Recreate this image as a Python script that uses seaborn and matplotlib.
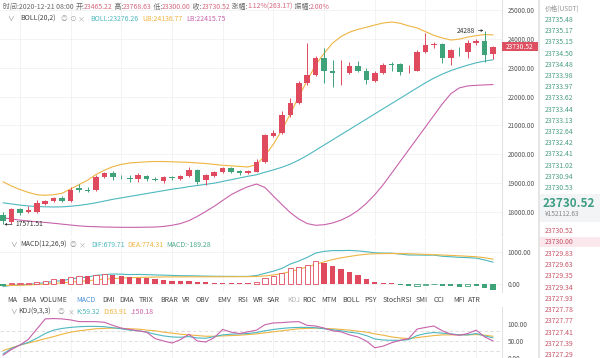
import matplotlib
matplotlib.use("Agg")
import matplotlib.pyplot as plt
import seaborn as sns
import numpy as np
import pandas as pd
from matplotlib.patches import Rectangle

# ---------------- data ----------------
opens = [17900, 17650, 18100, 18000, 18000, 18290, 18390, 18500, 18390, 18830,
         18780, 18760, 19220, 19340, 19230, 19180, 19140, 19250, 19150, 19080,
         19200, 19150, 19250, 19460, 19120, 19260, 19390, 19530, 19420, 19350,
         19400, 19720, 20650, 20740, 21350, 21780, 22470, 22760, 23340, 22890,
         22800, 22830, 23060, 22900, 22550, 22820, 23110, 23120, 22870, 22890,
         23550, 23800, 23820, 23340, 23620, 23550, 23860, 23930, 23465.22]
closes = [17700, 18100, 17970, 18070, 18300, 18380, 18490, 18390, 18780, 18780,
          18720, 19220, 19350, 19230, 19200, 19130, 19280, 19150, 19110, 19200,
          19180, 19250, 19460, 19040, 19280, 19400, 19530, 19400, 19350, 19420,
          19720, 20670, 20740, 21360, 21780, 22470, 22750, 23340, 22900, 22820,
          22830, 23060, 22890, 22570, 22820, 23100, 23090, 22860, 22900, 23550,
          23790, 23830, 23340, 23610, 23600, 23860, 23930, 23440, 23730.52]
highs = [18000, 18150, 18150, 18200, 18400, 18420, 18530, 18560, 18850, 18970,
         18850, 19300, 19400, 19420, 19300, 19300, 19350, 19280, 19200, 19260,
         19250, 19300, 19560, 19500, 19320, 19430, 19570, 19560, 19460, 19470,
         19850, 20700, 20850, 21500, 21950, 22550, 23850, 23400, 23680, 23270,
         23270, 23200, 23250, 23000, 22900, 23180, 23200, 23150, 23100, 23600,
         24200, 23900, 23850, 23650, 23720, 23950, 23980, 24288, 23768.63]
lows = [17571.51, 17600, 17900, 17950, 17950, 18250, 18350, 18330, 18360, 18700,
        18690, 18740, 19190, 19120, 19130, 19050, 19050, 19060, 19060, 19000,
        19120, 19100, 19230, 18980, 18950, 19220, 19360, 19360, 19300, 19310,
        19380, 19700, 20600, 20700, 21300, 21750, 22400, 22700, 22470, 22330,
        22400, 22780, 22850, 22450, 22500, 22780, 22900, 22750, 22800, 22870,
        23500, 23700, 23150, 23100, 23400, 23340, 23800, 23200, 23300.00]

boll_mid = [18320, 18280, 18240, 18210, 18190, 18180, 18175, 18180, 18200, 18230,
            18270, 18320, 18380, 18440, 18490, 18540, 18590, 18640, 18690, 18740,
            18790, 18830, 18880, 18920, 18960, 19000, 19060, 19120, 19180, 19240,
            19290, 19380, 19460, 19550, 19660, 19800, 19960, 20140, 20320, 20500,
            20680, 20860, 21040, 21220, 21400, 21580, 21760, 21940, 22120, 22300,
            22480, 22640, 22780, 22900, 23000, 23090, 23170, 23230, 23276.26]
boll_ub = [19050, 18900, 18780, 18680, 18600, 18580, 18600, 18650, 18800, 18950,
           19100, 19300, 19450, 19570, 19650, 19700, 19720, 19740, 19750, 19750,
           19740, 19730, 19720, 19700, 19680, 19650, 19620, 19600, 19580, 19560,
           19650, 19950, 20350, 20840, 21400, 22000, 22550, 23100, 23500, 23850,
           24080, 24230, 24330, 24400, 24480, 24550, 24585, 24540, 24450, 24380,
           24250, 24120, 24030, 23960, 23990, 24060, 24110, 24150, 24136.77]
boll_lb = [17800, 17760, 17720, 17690, 17660, 17640, 17610, 17580, 17550, 17520,
           17500, 17490, 17480, 17475, 17470, 17470, 17470, 17475, 17480, 17500,
           17540, 17600, 17700, 17850, 18020, 18200, 18400, 18600, 18750, 18880,
           18970, 18850, 18550, 18260, 17980, 17760, 17600, 17540, 17560, 17620,
           17720, 17860, 18050, 18300, 18600, 18950, 19350, 19750, 20150, 20550,
           20950, 21350, 21750, 22100, 22300, 22370, 22390, 22405, 22415.75]

macd_hist = [-60, 10, 20, 30, 60, 85, 135, 135, 200, 230,
             230, 290, 295, 290, 250, 200, 190, 165, 135, 115,
             95, 75, 70, 55, 45, 30, 25, 20, 15, 15,
             60, 165, 240, 325, 480, 530, 600, 715, 660, 570,
             460, 380, 270, 160, 60, 30, 20, -30, -80, -60,
             -50, -25, -80, -85, -95, -85, -85, -140, -189.28]
dif = [-90, -50, -38, -23, 5, 32, 75, 95, 150, 187,
       210, 263, 287, 305, 300, 288, 292, 287, 277, 270,
       262, 253, 252, 245, 240, 234, 232, 231, 229, 230,
       258, 327, 395, 482, 620, 715, 830, 967, 1020, 1045,
       1045, 1050, 1035, 1010, 975, 965, 962, 935, 905, 905,
       900, 902, 865, 850, 832, 822, 807, 750, 679.71]
dea = [-60, -55, -48, -38, -25, -10, 8, 28, 50, 72,
       95, 118, 140, 160, 175, 188, 197, 205, 210, 213,
       215, 216, 217, 218, 218, 219, 220, 221, 222, 223,
       228, 245, 275, 320, 380, 450, 530, 610, 690, 760,
       815, 860, 900, 930, 945, 950, 952, 950, 945, 935,
       925, 915, 905, 893, 880, 865, 850, 820, 774.31]

kdj_k = [12, 28, 38, 46, 58, 72, 82, 87, 90, 92,
         93, 93, 92, 89, 86, 82, 80, 76, 70, 65,
         62, 61, 63, 59, 58, 63, 68, 70, 71, 72,
         75, 80, 84, 87, 89, 90, 90, 89, 86, 83,
         80, 76, 73, 66, 56, 53, 52, 52, 54, 66,
         72, 75, 73, 71, 68, 68, 72, 65, 59.32]
kdj_d = [22, 30, 38, 44, 50, 57, 63, 70, 76, 80,
         83, 86, 87, 88, 87, 86, 85, 82, 80, 76,
         73, 70, 68, 66, 64, 64, 65, 66, 67, 69,
         71, 74, 77, 80, 83, 86, 87, 88, 87, 86,
         84, 82, 79, 76, 71, 67, 62, 59, 57, 60,
         63, 66, 68, 68, 68, 68, 69, 67, 63.91]
kdj_j = [8, 25, 38, 55, 85, 115, 116, 115, 112, 107,
         107, 107, 105, 96, 88, 84, 80, 76, 57, 50,
         44, 54, 70, 50, 47, 60, 84, 76, 72, 77,
         82, 98, 103, 104, 106, 107, 96, 94, 88, 80,
         77, 68, 62, 50, 30, 35, 45, 52, 57, 85,
         90, 94, 80, 70, 67, 72, 82, 62, 50.18]

price_ticks = [18000, 19000, 20000, 21000, 22000, 23000, 24000, 25000]
macd_ticks = [0, 1000]
kdj_ticks = [0, 50, 100]

ask_prices = ["23735.48", "23735.17", "23735.15", "23734.50", "23734.48", "23733.98",
              "23733.97", "23733.62", "23733.44", "23733.13", "23732.64", "23732.42",
              "23732.41", "23731.02", "23730.94", "23730.53"]
bid_prices = ["23730.52", "23730.00", "23729.83", "23729.63", "23729.35", "23729.34",
              "23727.93", "23727.78", "23727.77", "23727.41", "23727.39", "23727.29"]

tabs = ["MA", "EMA", "VOLUME", "MACD", "DMI", "DMA", "TRIX", "BRAR", "VR", "OBV", "EMV",
        "RSI", "WR", "SAR", "KDJ", "ROC", "MTM", "BOLL", "PSY", "StochRSI", "SMI",
        "CCI", "MFI", "ATR"]
tab_x = [7, 22, 40, 76, 102, 119, 139, 160, 182, 196, 217, 237, 253, 267, 287,
         302, 321, 342, 364, 383, 416, 434, 453, 468]

# ---------------- style ----------------
sns.set_theme(style="white")
plt.rcParams['font.family'] = ['Noto Sans CJK SC', 'DejaVu Sans']
plt.rcParams['axes.unicode_minus'] = False

RED = '#e04a5e'
GREEN = '#3fa37a'
TEAL = '#4db8bf'
YEL = '#eeb543'
PURP = '#c862ab'
GRID = '#f1f1f1'

W, H = 600, 358
fig = plt.figure(figsize=(W / 100, H / 100), dpi=100)
fig.patch.set_facecolor('white')


def px_axes(x0, y0, x1, y1):
    return fig.add_axes([x0 / W, 1 - y1 / H, (x1 - x0) / W, (y1 - y0) / H])


def T(x, y, s, **kw):
    kw.setdefault('va', 'center')
    kw.setdefault('ha', 'left')
    return fig.text(x / W, 1 - y / H, s, **kw)


n = len(opens)
idx = np.arange(n)
XL = (-3 / 8.45, (502 - 3) / 8.45)
grid_x = list(range(2, n, 6))


def style_axis(ax, ticks, labels, ylim):
    ax.set_xlim(*XL)
    ax.set_ylim(*ylim)
    ax.set_xticks(grid_x)
    ax.set_xticklabels([])
    ax.yaxis.tick_right()
    ax.set_yticks(ticks)
    ax.set_yticklabels(labels)
    ax.tick_params(axis='y', length=0, pad=4, labelsize=4.6, colors='#555555')
    ax.tick_params(axis='x', length=0)
    ax.grid(True, color=GRID, linewidth=0.6)
    for s in ['left', 'top', 'bottom']:
        ax.spines[s].set_visible(False)
    ax.spines['right'].set_color('#e2e2e2')
    ax.spines['right'].set_linewidth(0.8)
    ax.set_xlabel('')
    ax.set_ylabel('')
    ax.set_facecolor('white')


# ---------------- main (candles + BOLL) ----------------
ax = px_axes(0, 0, 502, 236)
px_per = 1000 / 34.65
style_axis(ax, price_ticks, [f"{v:.2f}" for v in price_ticks],
           (25000 - 226 * 34.65, 25000 + 10 * 34.65))

df = pd.DataFrame({'i': idx, 'open': opens, 'close': closes, 'high': highs, 'low': lows,
                   'mid': boll_mid, 'ub': boll_ub, 'lb': boll_lb})
sns.lineplot(data=df, x='i', y='ub', ax=ax, color=YEL, linewidth=0.8)
sns.lineplot(data=df, x='i', y='mid', ax=ax, color=TEAL, linewidth=0.8)
sns.lineplot(data=df, x='i', y='lb', ax=ax, color=PURP, linewidth=0.8)
ax.set_xlabel('')
ax.set_ylabel('')

up = df['close'] >= df['open']
cols = np.where(up, RED, GREEN)
ax.vlines(df['i'], df['low'], df['high'], colors=cols, linewidth=0.7, zorder=3)
body_lo = np.minimum(df['open'], df['close'])
body_h = np.maximum(np.abs(df['close'] - df['open']), 25)
ax.bar(df['i'], body_h, bottom=body_lo, width=0.66, color=cols, linewidth=0, zorder=4)

# high / low markers
i_hi = int(np.argmax(highs))
i_lo = int(np.argmin(lows))
ax.annotate(f"{highs[i_hi]:.0f}", xy=(i_hi - 0.15, highs[i_hi]), xytext=(-6, 0),
            textcoords='offset points', ha='right', va='center', fontsize=4.8, color='#333333',
            arrowprops=dict(arrowstyle='-|>', color='#333333', lw=0.5, mutation_scale=3,
                            shrinkA=0, shrinkB=0))
ax.annotate(f"{lows[i_lo]:.2f}", xy=(i_lo + 0.15, lows[i_lo]), xytext=(8, 0),
            textcoords='offset points', ha='left', va='center', fontsize=4.8, color='#333333',
            arrowprops=dict(arrowstyle='-|>', color='#333333', lw=0.5, mutation_scale=3,
                            shrinkA=0, shrinkB=0))

# current price tag
cur = closes[-1]
cy = 10 + (25000 - cur) / 34.65
fig.patches.append(Rectangle((502 / W, 1 - (cy + 4.5) / H), 36 / W, 9 / H,
                             transform=fig.transFigure, facecolor='#de4f62', edgecolor='none',
                             zorder=5))
T(520, cy, f"{cur:.2f}", ha='center', fontsize=4.8, color='white', zorder=6)

# ---------------- MACD ----------------
axm = px_axes(0, 238, 502, 292)
style_axis(axm, macd_ticks, ["0.00", "1000.00"],
           ((283.7 - 292) / 31.7 * 1000, (283.7 - 238) / 31.7 * 1000))
mdf = pd.DataFrame({'i': idx, 'hist': macd_hist, 'dif': dif, 'dea': dea})
hv = np.array(macd_hist, dtype=float)
prev = np.concatenate([[hv[0]], hv[:-1]])
hollow = hv > prev
bcol = np.where(hv >= 0, RED, GREEN)
for i in range(n):
    if hollow[i]:
        axm.bar(i, hv[i], width=0.62, facecolor='white', edgecolor=bcol[i], linewidth=0.6, zorder=3)
    else:
        axm.bar(i, hv[i], width=0.62, color=bcol[i], linewidth=0, zorder=3)
sns.lineplot(data=mdf, x='i', y='dif', ax=axm, color=TEAL, linewidth=0.8)
sns.lineplot(data=mdf, x='i', y='dea', ax=axm, color=YEL, linewidth=0.8)
axm.set_xlabel('')
axm.set_ylabel('')

# ---------------- KDJ ----------------
axk = px_axes(0, 307, 502, 358)
style_axis(axk, kdj_ticks, ["0.00", "50.00", "100.00"], (0, 150))
axk.grid(False)
for xv in grid_x:
    axk.axvline(xv, color=GRID, linewidth=0.6, zorder=0)
for lv in [20, 50, 80]:
    axk.axhline(lv, color='#d8d8d8', linewidth=0.6, linestyle=(0, (4, 3)), zorder=1)
kdf = pd.DataFrame({'i': idx, 'K': kdj_k, 'D': kdj_d, 'J': kdj_j})
sns.lineplot(data=kdf, x='i', y='D', ax=axk, color=YEL, linewidth=0.8)
sns.lineplot(data=kdf, x='i', y='K', ax=axk, color=TEAL, linewidth=0.8)
sns.lineplot(data=kdf, x='i', y='J', ax=axk, color=PURP, linewidth=0.8)
axk.set_xlabel('')
axk.set_ylabel('')

# ---------------- header texts ----------------
fig.canvas.draw()
rend = fig.canvas.get_renderer()


def seq(x, y, pieces, fs):
    for s, c in pieces:
        t = T(x, y, s, fontsize=fs, color=c)
        bb = t.get_window_extent(renderer=rend)
        x = bb.x1


GR = '#666666'
VR = '#d5687d'
seq(3, 7, [("时间:2020-12-21 08:00 ", GR), ("开:", GR), ("23465.22", VR), (" 高:", GR),
           ("23768.63", VR), (" 低:", GR), ("23300.00", VR), (" 收:", GR), ("23730.52", VR),
           (" 涨幅:", GR), ("1.12%(263.17)", VR), (" 振幅:", GR), ("2.00%", VR)], 5.0)

T(7, 19, "∨", fontsize=4.8, color='#888888')
T(20, 19, "BOLL(20,2)", fontsize=5.0, color='#444444')
T(61, 19, "◎", fontsize=4.8, color='#aaaaaa')
T(69, 19, "⊙", fontsize=4.8, color='#aaaaaa')
T(78, 19, "×", fontsize=5.0, color='#aaaaaa')
T(90, 19, "BOLL:23276.26", fontsize=5.0, color=TEAL)
T(142, 19, "UB:24136.77", fontsize=5.0, color=YEL)
T(186, 19, "LB:22415.75", fontsize=5.0, color=PURP)

T(10, 245, "∨", fontsize=4.8, color='#888888')
T(20, 245, "MACD(12,26,9)", fontsize=5.0, color='#444444')
T(70, 245, "◎", fontsize=4.8, color='#aaaaaa')
T(79, 245, "×", fontsize=5.0, color='#aaaaaa')
T(91, 245, "DIF:679.71", fontsize=5.0, color=TEAL)
T(127, 245, "DEA:774.31", fontsize=5.0, color=YEL)
T(166, 245, "MACD:-189.28", fontsize=5.0, color='#4aa98a')

T(10, 312, "∨", fontsize=4.8, color='#888888')
T(18, 312, "KDJ(9,3,3)", fontsize=5.0, color='#444444')
T(58, 312, "◎", fontsize=4.8, color='#aaaaaa')
T(68, 312, "×", fontsize=5.0, color='#aaaaaa')
T(76, 312, "K:59.32", fontsize=5.0, color=TEAL)
T(103, 312, "D:63.91", fontsize=5.0, color=YEL)
T(131, 312, "J:50.18", fontsize=5.0, color=PURP)

# indicator tabs
for s, xv in zip(tabs, tab_x):
    c = '#444444'
    if s == 'MACD':
        c = '#4a8fd6'
    elif s == 'KDJ':
        c = '#b0b0b0'
    T(xv, 300, s, fontsize=5.0, color=c)

# ---------------- order book ----------------
fig.lines.append(plt.Line2D([539 / W, 539 / W], [0, 1], transform=fig.transFigure,
                            color='#e0e0e0', linewidth=1.2))
fig.patches.append(Rectangle((540 / W, 1 - 222 / H), 60 / W, 28 / H, transform=fig.transFigure,
                             facecolor='#f3f4f6', edgecolor='none'))
fig.patches.append(Rectangle((540 / W, 1 - 247 / H), 60 / W, 10 / H, transform=fig.transFigure,
                             facecolor='#fbe8ec', edgecolor='none'))
T(545, 9, "价格(USDT)", fontsize=4.8, color='#999999')
for k, p in enumerate(ask_prices):
    T(545, 20 + k * 11.2, p, fontsize=5.0, color='#4a9e86')
T(543, 203, "23730.52", fontsize=8.5, color='#3e9e82', fontweight='bold')
T(545, 214, "¥152112.63", fontsize=4.8, color='#888888')
for k, p in enumerate(bid_prices):
    T(545, 231 + k * 11.3, p, fontsize=5.0, color='#c95466')

fig.savefig('out.png', dpi=100, facecolor='white')
